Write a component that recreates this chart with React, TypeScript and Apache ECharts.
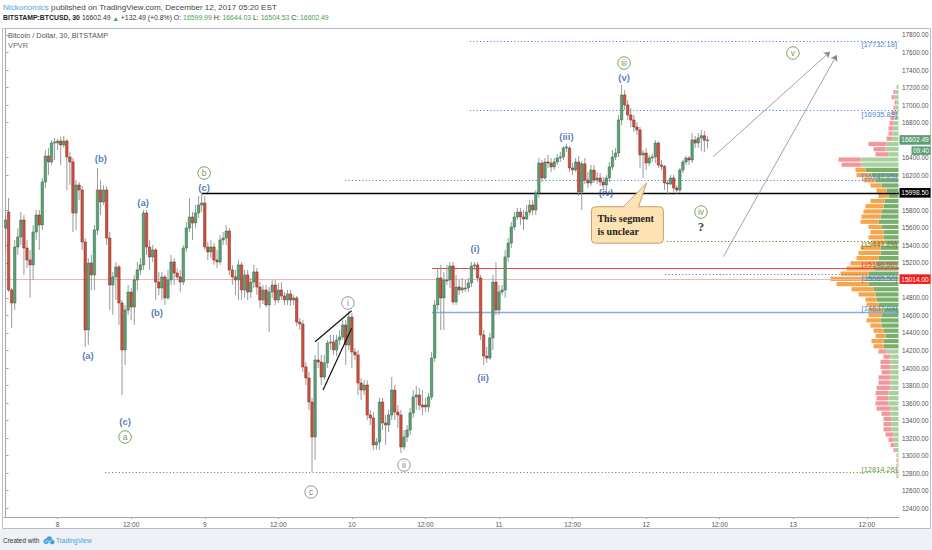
import React, { useEffect, useRef } from 'react';
import * as echarts from 'echarts';

const FONT = "'Liberation Sans', Arial, sans-serif";
const NARROW = "'Liberation Sans Narrow', 'Liberation Sans', Arial, sans-serif";
const SERIF = "'Liberation Serif', 'DejaVu Serif', serif";

const BAR_COUNT = 292; // 30-min slots from Dec 7 15:30 to Dec 13 17:00
const X_MIN = -0.5;
const X_MAX = BAR_COUNT - 0.5;
const Y_MIN = 12300;
const Y_MAX = 17868;

// ---- tick labels ----
const timeTickIndex = [17, 41, 65, 89, 113, 137, 161, 185, 209, 233, 257, 281];
const timeTickLabel = ['8', '12:00', '9', '12:00', '10', '12:00', '11', '12:00', '12', '12:00', '13', '12:00'];
const priceTicks = [12400, 12600, 12800, 13000, 13200, 13400, 13600, 13800, 14000, 14200, 14400, 14600, 14800,
  15200, 15400, 15600, 15800, 16200, 16400, 16800, 17000, 17200, 17400, 17600, 17800];

// ---- candles [open, close, low, high], BTCUSD 30m, Bitstamp ----
const dec07 = [
  [15598, 15689, 15347, 15746], [15780, 14890, 14867, 15940], [14890, 14742, 14457, 14913], [14742, 15381, 14662, 15461],
  [15381, 15495, 15290, 15598], [15495, 15689, 15404, 15780], [15689, 15369, 15062, 15746], [15369, 15233, 15141, 15461],
  [15233, 15176, 14799, 15347], [15176, 15552, 15005, 15632], [15552, 15746, 15461, 15803], [15746, 15632, 15347, 15803],
  [15632, 16122, 15575, 16168], [16122, 16419, 16054, 16488], [16419, 16351, 16202, 16510], [16351, 16567, 16316, 16602],
  [16567, 16579, 16373, 16625],
];
const dec08 = [
  [16567, 16590, 16488, 16613], [16590, 16545, 16316, 16636], [16545, 16590, 16510, 16647], [16590, 16408, 16031, 16613],
  [16408, 16351, 16088, 16465], [16351, 15769, 15552, 16396], [15769, 16088, 15575, 16145], [16088, 16031, 15917, 16122],
  [16031, 15438, 15347, 16077], [15438, 14434, 14240, 15483], [14434, 15198, 14263, 15255], [15198, 15062, 14890, 15290],
  [15062, 15575, 14890, 15632], [15575, 16031, 15518, 16282], [16031, 15894, 15746, 16145], [15894, 16031, 15860, 16088],
  [16031, 15483, 15404, 16077], [15483, 14947, 14662, 15552], [14947, 15039, 14605, 15096], [15039, 15153, 14776, 15210],
  [15153, 14742, 14491, 15176], [14742, 14206, 13692, 14776], [14206, 14662, 14035, 14719], [14662, 14867, 14605, 14947],
  [14867, 14696, 14548, 14913], [14696, 15005, 14491, 15062], [15005, 15119, 14890, 15210], [15119, 15176, 15062, 15255],
  [15176, 15769, 15119, 15803], [15769, 15381, 15290, 15803], [15381, 15267, 15119, 15461], [15267, 15347, 15210, 15404],
  [15347, 14981, 14776, 15369], [14981, 14913, 14834, 15096], [14913, 15039, 14776, 15096], [15039, 14799, 14719, 15062],
  [14799, 15005, 14776, 15119], [15005, 15210, 14947, 15290], [15210, 15084, 14947, 15255], [15084, 15039, 15005, 15141],
  [15039, 14981, 14867, 15119], [14981, 15369, 14947, 15404], [15369, 15598, 15324, 15666], [15598, 15723, 15552, 15940],
  [15723, 15655, 15461, 15780], [15655, 15769, 15598, 15860], [15769, 15860, 15712, 15963], [15860, 15883, 15780, 15998.5],
];
const dec09 = [
  [15883, 15381, 15347, 15963], [15381, 15324, 15233, 15438], [15324, 15381, 15255, 15461], [15381, 15233, 15176, 15426],
  [15233, 15210, 15141, 15347], [15210, 15461, 15176, 15518], [15461, 15483, 15404, 15552], [15483, 15563, 15404, 15632],
  [15563, 15119, 15062, 15598], [15119, 15039, 14947, 15176], [15039, 15005, 14834, 15119], [15005, 15176, 14776, 15233],
  [15176, 14890, 14776, 15210], [14890, 15062, 14799, 15119], [15062, 14867, 14776, 15119], [14867, 14981, 14799, 15027],
  [14981, 15096, 14913, 15176], [15096, 14924, 14834, 15141], [14924, 14776, 14685, 14981], [14776, 14890, 14730, 14947],
  [14890, 14719, 14690, 14947], [14719, 14867, 14411, 14924], [14867, 14947, 14799, 15005], [14947, 14776, 14719, 15005],
  [14776, 14890, 14742, 14970], [14890, 14822, 14776, 14981], [14822, 14776, 14719, 14867], [14776, 14845, 14719, 14890],
  [14845, 14776, 14707, 14890], [14776, 14799, 14719, 14834], [14799, 14525, 14479, 14822], [14525, 14502, 14434, 14571],
  [14502, 14012, 13955, 14548], [14012, 13886, 13806, 14069], [13886, 13612, 13521, 13955], [13612, 13213, 12814.26, 13658],
  [13213, 14092, 12950, 14149], [14092, 14069, 14000, 14297], [14069, 13897, 13806, 14149], [13897, 14058, 13863, 14149],
  [14058, 14285, 14000, 14320], [14285, 14297, 14206, 14377], [14297, 14206, 14149, 14377], [14206, 14320, 14137, 14377],
  [14320, 14354, 14263, 14434], [14354, 14491, 14320, 14548], [14491, 14263, 14035, 14548], [14263, 14582, 14206, 14651],
];
const dec10 = [
  [14582, 14183, 14000, 14628], [14183, 14149, 14092, 14228], [14149, 13829, 13692, 14206], [13829, 13749, 13635, 13886],
  [13749, 13806, 13692, 13863], [13806, 13464, 13407, 13863], [13464, 13430, 13350, 13521], [13430, 13122, 13065, 13498],
  [13122, 13156, 13065, 13201], [13156, 13612, 13065, 13658], [13612, 13373, 13293, 13658], [13373, 13350, 13122, 13464],
  [13350, 13464, 13270, 13521], [13464, 13749, 13407, 13897], [13749, 13498, 13407, 13806], [13498, 13464, 13316, 13578],
  [13464, 13099, 13030, 13521], [13099, 13213, 13065, 13293], [13213, 13293, 13156, 13350], [13293, 13487, 13236, 13544],
  [13487, 13669, 13430, 13749], [13669, 13692, 13521, 13795], [13692, 13578, 13521, 13772], [13578, 13555, 13464, 13749],
  [13578, 13555, 13498, 13658], [13555, 13669, 13498, 13715], [13669, 14114, 13635, 14183], [14114, 14719, 14069, 14776],
  [14719, 15027, 14662, 15141], [15027, 14799, 14434, 15176], [14799, 15005, 14434, 15096], [14993, 15005, 14947, 15176],
  [15005, 15164, 14913, 15210], [15164, 14753, 14719, 15210], [14753, 14924, 14719, 15062], [14924, 14890, 14834, 15005],
  [14890, 14913, 14856, 15027], [14901, 14913, 14867, 15005], [14913, 14970, 14867, 15027], [14970, 15164, 14924, 15210],
  [15164, 15176, 15119, 15210], [15176, 15027, 14981, 15210], [15027, 14377, 14320, 15062], [14377, 14137, 14035, 14434],
  [14137, 14114, 14058, 14240], [14114, 14343, 14092, 14400], [14343, 14981, 14206, 15062], [14981, 14662, 14605, 15210],
];
const dec11 = [
  [14662, 14867, 14605, 14947], [14867, 14890, 14834, 14947], [14890, 15267, 14799, 15347], [15267, 15426, 15210, 15483],
  [15426, 15609, 15369, 15666], [15609, 15723, 15575, 15780], [15723, 15780, 15689, 15826], [15780, 15723, 15632, 15826],
  [15723, 15700, 15575, 15803], [15700, 15780, 15689, 15860], [15780, 15860, 15746, 15917], [15860, 15803, 15746, 15917],
  [15803, 15997, 15746, 16031], [15997, 16339, 15940, 16396], [16339, 16168, 16122, 16373], [16168, 16351, 16145, 16396],
  [16351, 16339, 16282, 16431], [16339, 16294, 16237, 16396], [16294, 16351, 16259, 16396], [16351, 16396, 16316, 16442],
  [16396, 16408, 16351, 16465], [16408, 16510, 16373, 16533], [16510, 16522, 16465, 16560], [16510, 16282, 16237, 16533],
  [16282, 16260, 16202, 16340], [16260, 16351, 16237, 16396], [16351, 16008, 15963, 16419], [16008, 16330, 15803, 16360],
  [16330, 16145, 16100, 16396], [16145, 16111, 16054, 16237], [16111, 16259, 16077, 16316], [16259, 16145, 16111, 16316],
  [16145, 16168, 16100, 16237], [16168, 16122, 16077, 16225], [16122, 16088, 16031, 16180], [16088, 16168, 15997, 16202],
  [16168, 16294, 16122, 16351], [16294, 16408, 16259, 16488], [16408, 16453, 16373, 16510], [16453, 16830, 16408, 16887],
  [16830, 17115, 16773, 17232], [17115, 17001, 16944, 17172], [17001, 16887, 16830, 17058], [16887, 16830, 16750, 16967],
  [16830, 16750, 16693, 16887], [16750, 16716, 16659, 16807], [16716, 16431, 16282, 16750], [16431, 16453, 16168, 16488],
];
const dec12 = [
  [16453, 16339, 16259, 16510], [16339, 16396, 16305, 16431], [16396, 16408, 16351, 16442], [16408, 16567, 16339, 16602],
  [16567, 16316, 16282, 16590], [16316, 16300, 16259, 16373], [16300, 16111, 16031, 16316], [16111, 16100, 15974, 16145],
  [16100, 16168, 16088, 16202], [16168, 16054, 16008, 16202], [16054, 16031, 15985, 16088], [16031, 16259, 15997, 16282],
  [16259, 16351, 16225, 16373], [16351, 16396, 16316, 16419], [16396, 16373, 16316, 16419], [16373, 16602, 16339, 16681],
  [16602, 16567, 16510, 16647], [16567, 16625, 16510, 16681], [16625, 16650, 16476, 16716], [16650, 16600, 16465, 16704],
  [16599.99, 16602.49, 16504.53, 16644.03],
];
const candles = [...dec07, ...dec08, ...dec09, ...dec10, ...dec11, ...dec12];

// ---- volume profile (VPVR), rows from bottom to top ----
const vpStart = 12738;
const vpStep = 59.2;
const vpUp = [1, 1, 1, 1, 2, 3, 4, 5, 5, 7, 7, 7, 8, 8, 10, 10, 10, 8, 8, 8, 8, 8, 8, 8, 12, 15, 15, 13, 15, 17,
  18, 17, 15, 20, 22, 23, 25, 30, 32, 30, 25, 23, 20, 18, 18, 13, 15, 15, 17, 20, 18, 17, 15, 14, 10, 12, 17, 23, 27, 33,
  37, 38, 10, 13, 12, 6, 6, 5, 5, 4, 4, 3, 2, 4, 3, 2];
const vpDown = [1, 1, 1, 1, 0, 2, 4, 5, 8, 8, 8, 8, 9, 14, 13, 12, 13, 14, 12, 12, 9, 10, 10, 7, 8, 10, 12, 10, 10, 11,
  14, 13, 15, 12, 11, 17, 22, 32, 36, 28, 27, 25, 22, 22, 20, 14, 15, 13, 13, 18, 19, 18, 18, 14, 10, 10, 11, 12, 15, 10,
  20, 22, 13, 12, 18, 6, 4, 5, 4, 4, 3, 2, 2, 3, 2, 0];
const vaLow = 14220;
const vaHigh = 16290;

// ---- horizontal levels ----
const levelPrice = [17732.18, 16935.89, 16147.25, 15998.5, 15447.29, 15140.5, 15065.5, 15014.0, 14637.04, 12814.26];
const levelFrom = [151.5, 151.5, 110.8, 64, 215.8, 139.1, 215.2, -0.5, 139.1, 32.5];
const levelHasLabel = [true, true, true, false, true, true, true, false, true, true];
const levelColor = ['#4e86d2', '#4e86d2', '#4e86d2', '#000000', '#6d7b2c', '#ec4646', '#3a8ac9', '#f6b3b3', '#86aee0', '#6a9a3c'];
const levelLabelColor = ['#4e86d2', '#4e86d2', '#4e86d2', '#000', '#6d7b2c', '#e53935', '#3a8ac9', '#000', '#4e86d2', '#6a9a3c'];
const levelWidth = [1, 1, 1, 1.4, 1, 1, 1, 1, 1.4, 1];
const levelDotted = [true, true, true, false, true, false, true, false, false, true];
const levelLabelDy = [3.5, 4, -3.5, 0, 3.5, -3.5, 3.5, 0, -3.5, -2];

// ---- price tags on axis ----
const tagPrice = [16602.49, 15998.5, 15014.0];
const tagColor = ['#5f9e74', '#000000', '#f01f1f'];
const countdownText = '09:40';

// ---- Elliott wave labels ----
const waveText = ['(a)', '(b)', '(c)', '(a)', '(b)', '(c)', '(i)', '(ii)', '(iii)', '(iv)', '(v)'];
const waveIdx = [26.9, 31.1, 39, 44.9, 49.4, 64.8, 153.2, 155.8, 183, 195.9, 201.8];
const wavePrice = [14137, 16385, 13395, 15883, 14628, 16054, 15369, 13886, 16636, 15997, 17320];

const circText = ['a', 'b', 'c', 'i', 'ii', 'iii', 'iv', 'v'];
const circIdx = [39, 64.8, 99.7, 111.7, 130, 201.8, 226.9, 256.9];
const circPrice = [13213, 16225, 12585, 14742, 12893, 17480, 15780, 17594];
const circGray = [false, false, true, true, true, false, false, false];

const questionIdx = 226.9;
const questionPrice = 15620;

// wedge (ending diagonal) and projection arrows: [idx1, price1, idx2, price2]
const wedgeLines = [[101, 14300, 112.9, 14654], [103.6, 13749, 112.9, 14453]];
const arrowLines = [[230.9, 16411, 269, 17609], [234.2, 15270, 271.2, 17571]];

// callout
const calloutText = 'This segment\nis unclear';
const calloutCenter = [202.9, 15632];
const calloutTip = [209.2, 16114];

function buildOption() {
  const candleData = candles.map((c, i) => [i, c[0], c[1], c[2], c[3]]);
  const vpData = vpUp.map((u, i) => [i, u, vpDown[i]]);
  const vpMax = Math.max(...vpUp.map((u, i) => u + vpDown[i]));
  const VP_WIDTH = 68;

  const levelLines = levelPrice.map((p, i) => ({
    coords: [[levelFrom[i], p], [X_MAX, p]],
    lineStyle: {
      color: levelColor[i], width: levelWidth[i], opacity: 1,
      type: levelDotted[i] ? [1.2, 2.2] : 'solid',
    },
  }));

  return {
    animation: false,
    backgroundColor: '#ffffff',
    grid: { left: 4, right: 33, top: 29, bottom: 33, outerBoundsMode: 'none' },
    xAxis: {
      type: 'value', min: X_MIN, max: X_MAX,
      axisLine: { show: true, onZero: false, lineStyle: { color: '#a3a8ae', width: 1 } },
      axisTick: { show: true, customValues: timeTickIndex, length: 2, lineStyle: { color: '#a3a8ae' } },
      axisLabel: {
        show: true, customValues: timeTickIndex,
        formatter: (v: number) => {
          const k = timeTickIndex.indexOf(Math.round(v));
          return k >= 0 ? timeTickLabel[k] : '';
        },
        fontSize: 6.6, color: '#555', margin: 4, fontFamily: NARROW,
      },
      splitLine: { show: false },
    },
    yAxis: {
      type: 'value', position: 'right', min: Y_MIN, max: Y_MAX,
      axisLine: { show: true, lineStyle: { color: '#a3a8ae', width: 1 } },
      axisTick: { show: true, customValues: priceTicks, length: 3, lineStyle: { color: '#a3a8ae' } },
      axisLabel: {
        show: true, customValues: priceTicks,
        formatter: (v: number) => v.toFixed(2),
        fontSize: 6.4, color: '#555', margin: 3, fontFamily: NARROW,
      },
      splitLine: { show: false },
    },
    series: [
      {
        type: 'custom', name: 'VPVR', data: vpData, clip: false, silent: true, z: 1,
        encode: { x: 0, y: 1 },
        renderItem: (params: any, api: any) => {
          const r = api.value(0), up = api.value(1), dn = api.value(2);
          const lo = vpStart + r * vpStep;
          const hi = lo + vpStep;
          const yT = api.coord([0, hi])[1];
          const yB = api.coord([0, lo])[1];
          const cs = params.coordSys;
          const right = cs.x + cs.width - 0.5;
          const k = VP_WIDTH / vpMax;
          const mid = (lo + hi) / 2;
          const va = mid >= vaLow && mid <= vaHigh;
          const h = Math.max(yB - yT - 1, 1);
          return {
            type: 'group',
            children: [
              { type: 'rect', shape: { x: right - up * k, y: yT + 0.5, width: up * k, height: h }, style: { fill: va ? '#7aae6d' : '#a9d1a0' } },
              { type: 'rect', shape: { x: right - (up + dn) * k, y: yT + 0.5, width: dn * k, height: h }, style: { fill: va ? '#f6a54c' : '#f3979b' } },
            ],
          };
        },
      },
      {
        type: 'custom', name: 'BTCUSD', data: candleData, clip: true, silent: true, z: 4,
        encode: { x: 0, y: [1, 2, 3, 4] },
        renderItem: (params: any, api: any) => {
          const i = api.value(0);
          const o = api.value(1), c = api.value(2), l = api.value(3), h = api.value(4);
          const po = api.coord([i, o]), pc = api.coord([i, c]), pl = api.coord([i, l]), ph = api.coord([i, h]);
          const x = po[0];
          const bw = api.size([1, 0])[0] * 0.8;
          const up = c >= o;
          const top = Math.min(po[1], pc[1]);
          const bh = Math.max(Math.abs(po[1] - pc[1]), 0.8);
          return {
            type: 'group',
            children: [
              { type: 'line', shape: { x1: x, y1: ph[1], x2: x, y2: pl[1] }, style: { stroke: '#8d8f94', lineWidth: 0.9 } },
              {
                type: 'rect', shape: { x: x - bw / 2, y: top, width: bw, height: bh },
                style: { fill: up ? '#5f9f75' : '#d2503d', stroke: up ? '#2f6b47' : '#7a2a1f', lineWidth: 0.5 },
              },
            ],
          };
        },
      },
      {
        type: 'lines', coordinateSystem: 'cartesian2d', polyline: false, silent: true, z: 3,
        symbol: ['none', 'none'], data: levelLines,
      },
      {
        type: 'lines', coordinateSystem: 'cartesian2d', polyline: false, silent: true, z: 5,
        symbol: ['none', 'none'],
        lineStyle: { color: '#111', width: 1.2, opacity: 1 },
        data: wedgeLines.map((w) => ({ coords: [[w[0], w[1]], [w[2], w[3]]] })),
      },
      {
        type: 'lines', coordinateSystem: 'cartesian2d', polyline: false, silent: true, z: 5,
        symbol: ['none', 'arrow'], symbolSize: 6,
        lineStyle: { color: '#8a8a8a', width: 0.8, opacity: 1 },
        data: arrowLines.map((w) => ({ coords: [[w[0], w[1]], [w[2], w[3]]] })),
      },
      {
        type: 'scatter', silent: true, z: 6, symbolSize: 1,
        itemStyle: { color: 'rgba(0,0,0,0)' },
        label: { show: true, position: 'inside', color: '#2d5aae', fontSize: 9.5, fontWeight: 'bold', fontFamily: FONT, formatter: (p: any) => waveText[p.dataIndex] },
        data: waveIdx.map((x, i) => [x, wavePrice[i]]),
      },
      {
        type: 'scatter', silent: true, z: 6, symbol: 'circle', symbolSize: 12.5,
        data: circIdx.map((x, i) => ({
          value: [x, circPrice[i]],
          itemStyle: { color: '#ffffff', borderColor: circGray[i] ? '#7a7a7a' : '#5f8a33', borderWidth: 1 },
          label: { color: circGray[i] ? '#5a5a5a' : '#4f7d27' },
        })),
        label: { show: true, position: 'inside', fontSize: 8.5, fontFamily: FONT, formatter: (p: any) => circText[p.dataIndex] },
      },
      {
        type: 'scatter', silent: true, z: 6, symbolSize: 1,
        itemStyle: { color: 'rgba(0,0,0,0)' },
        label: { show: true, position: 'inside', color: '#111', fontSize: 13, fontWeight: 'bold', fontFamily: SERIF, formatter: '?' },
        data: [[questionIdx, questionPrice]],
      },
    ],
  };
}

function buildGraphics(chart: any) {
  const px = (i: number, p: number) => chart.convertToPixel({ gridIndex: 0 }, [i, p]);
  const g: any[] = [];
  const txt = (x: number, y: number, style: any, z = 20, extra: any = {}) => ({
    type: 'text', x, y, z, silent: true, ...extra,
    style: { verticalAlign: 'middle', textVerticalAlign: 'middle', ...style },
  });

  // frame and footer
  g.push({ type: 'rect', z: 0, silent: true, shape: { x: 0, y: 529, width: 932, height: 21 }, style: { fill: '#eef1f5' } });
  g.push({ type: 'rect', z: 30, silent: true, shape: { x: 2.5, y: 28.5, width: 928, height: 500 }, style: { fill: 'none', stroke: '#b9bec6', lineWidth: 1 } });

  // header
  g.push(txt(3, 7, {
    text: '{n|Nickonomics}{t| published on TradingView.com, December 12, 2017 05:20 EST}',
    fontSize: 8.1, fontFamily: FONT,
    rich: {
      n: { fill: '#4aa3df', fontSize: 8.1, fontFamily: FONT },
      t: { fill: '#444', fontSize: 8.1, fontFamily: FONT },
    },
  }));
  g.push(txt(3, 18, {
    text: '{b|BITSTAMP:BTCUSD, 30} {t|16602.49 }{g|▲}{t| +132.49 (+0.8%) O: }{v|16599.99}{t| H: }{v|16644.03}{t| L: }{v|16504.53}{t| C: }{v|16602.49}',
    fontSize: 7.4, fontFamily: FONT,
    rich: {
      b: { fill: '#222', fontSize: 7.4, fontWeight: 'bold', fontFamily: FONT },
      t: { fill: '#333', fontSize: 7.4, fontFamily: FONT },
      g: { fill: '#3fa34d', fontSize: 7, fontFamily: FONT },
      v: { fill: '#3fa34d', fontSize: 7.4, fontFamily: FONT },
    },
  }, 20, { scaleX: 0.93 }));
  g.push(txt(8, 35, { text: 'Bitcoin / Dollar, 30, BITSTAMP', fill: '#555', fontSize: 7.4, fontFamily: FONT }));
  g.push(txt(8, 45.5, { text: 'VPVR', fill: '#6d6d6d', fontSize: 7.4, fontFamily: FONT }));

  // footer
  g.push(txt(3, 540, { text: 'Created with', fill: '#333', fontSize: 7.2, fontFamily: FONT }, 20, { scaleX: 0.9 }));
  g.push({ type: 'circle', z: 20, silent: true, shape: { cx: 46, cy: 541.5, r: 2.6 }, style: { fill: '#3d9fe0' } });
  g.push({ type: 'circle', z: 20, silent: true, shape: { cx: 49.3, cy: 539.6, r: 3.2 }, style: { fill: '#3d9fe0' } });
  g.push({ type: 'circle', z: 20, silent: true, shape: { cx: 52.2, cy: 542, r: 2.3 }, style: { fill: '#3d9fe0' } });
  g.push({ type: 'polyline', z: 21, silent: true, shape: { points: [[45, 542.5], [47.5, 540.5], [49.5, 542], [52.5, 539]] }, style: { stroke: '#fff', lineWidth: 0.8, fill: 'none' } });
  g.push(txt(56, 540, { text: 'TradingView', fill: '#3d9fe0', fontSize: 7.2, fontFamily: FONT }, 20, { scaleX: 0.9 }));

  // level labels
  levelPrice.forEach((p, i) => {
    if (!levelHasLabel[i]) return;
    const y = px(0, p)[1] + levelLabelDy[i];
    g.push(txt(897, y, {
      text: '[' + p.toFixed(2) + ']', fill: levelLabelColor[i], fontSize: 7.5, fontFamily: FONT,
      align: 'right', textAlign: 'right',
    }, 25));
  });

  // price tags on axis
  tagPrice.forEach((p, i) => {
    const y = px(0, p)[1];
    g.push({ type: 'rect', z: 40, silent: true, shape: { x: 899.5, y: y - 4.8, width: 31, height: 9.6 }, style: { fill: tagColor[i] } });
    g.push(txt(915, y, { text: p.toFixed(2), fill: '#fff', fontSize: 6.6, fontFamily: NARROW, align: 'center', textAlign: 'center' }, 41));
    if (i === 0) {
      g.push({ type: 'rect', z: 40, silent: true, shape: { x: 911.5, y: y + 6.5, width: 19, height: 8.5 }, style: { fill: tagColor[0] } });
      g.push(txt(921, y + 10.8, { text: countdownText, fill: '#fff', fontSize: 6.4, fontFamily: NARROW, align: 'center', textAlign: 'center' }, 41));
    }
  });

  // callout
  const c = px(calloutCenter[0], calloutCenter[1]);
  const tip = px(calloutTip[0], calloutTip[1]);
  const bw = 72, bh = 36.5;
  const top = c[1] - bh / 2;
  g.push({ type: 'rect', z: 45, silent: true, shape: { x: c[0] - bw / 2, y: top, width: bw, height: bh, r: 4 }, style: { fill: '#fde2b4', stroke: '#c7a064', lineWidth: 1 } });
  g.push({ type: 'polygon', z: 46, silent: true, shape: { points: [[c[0] - 4, top + 1], [c[0] + 11, top + 1], tip] }, style: { fill: '#fde2b4' } });
  g.push({ type: 'polyline', z: 46, silent: true, shape: { points: [[c[0] - 4, top], tip, [c[0] + 11, top]] }, style: { stroke: '#c7a064', lineWidth: 1, fill: 'none' } });
  g.push(txt(c[0] - bw / 2 + 6, c[1], {
    text: calloutText, fill: '#222', fontSize: 10, fontWeight: 'bold', fontFamily: SERIF, lineHeight: 12.5,
  }, 47));

  return g;
}

export default function App() {
  const ref = useRef<HTMLDivElement>(null);
  useEffect(() => {
    const el = ref.current;
    if (!el) return;
    const chart = echarts.init(el, null, { renderer: 'svg' });
    chart.setOption(buildOption() as any);
    chart.setOption({ graphic: buildGraphics(chart) } as any);
    return () => chart.dispose();
  }, []);
  return <div ref={ref} style={{ position: 'fixed', left: 0, top: 0, width: 932, height: 550, background: '#fff' }} />;
}
